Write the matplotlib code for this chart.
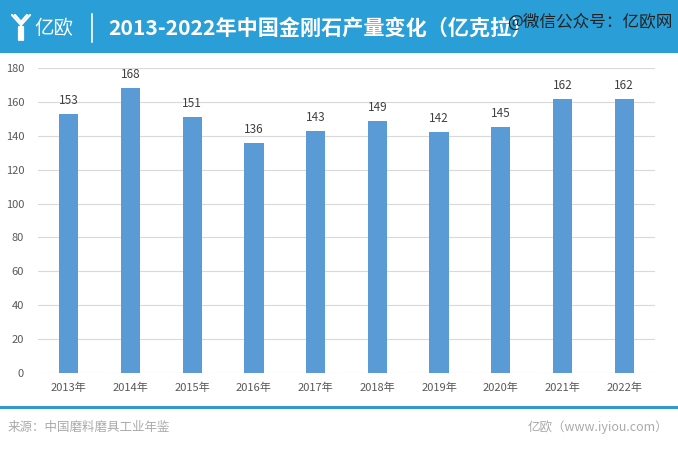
import matplotlib
matplotlib.use("Agg")
import matplotlib.pyplot as plt
from matplotlib.patches import Rectangle
from matplotlib.lines import Line2D

plt.rcParams['font.family'] = ['Noto Sans CJK SC', 'DejaVu Sans']

years = ["2013年", "2014年", "2015年", "2016年", "2017年", "2018年", "2019年", "2020年", "2021年", "2022年"]
production = [153, 168, 151, 136, 143, 149, 142, 145, 162, 162]
yticks = [0, 20, 40, 60, 80, 100, 120, 140, 160, 180]

title = "2013-2022年中国金刚石产量变化（亿克拉）"
source = "来源：中国磨料磨具工业年鉴"
site = "亿欧（www.iyiou.com）"
watermark = "@微信公众号：亿欧网"

W, H = 678, 449
fig = plt.figure(figsize=(W / 100, H / 100), dpi=100)
fig.patch.set_facecolor("white")

# header band
fig.add_artist(Rectangle((0, 1 - 53 / H), 1, 53 / H, transform=fig.transFigure,
                         facecolor="#2A9ED6", edgecolor="none", zorder=0))
def fl(x, y):
    return x / W, 1 - y / H
# logo icon (stylized Y)
for (x0, y0, x1, y1) in [(12, 15, 21, 25), (15, 15, 22, 23), (30, 15, 21, 25), (27, 15, 21, 22),
                         (21, 25, 21, 40), (19, 27, 19, 40), (23, 27, 23, 40)]:
    a = fl(x0, y0); b = fl(x1, y1)
    fig.add_artist(Line2D([a[0], b[0]], [a[1], b[1]], transform=fig.transFigure,
                          color="white", lw=1.6, solid_capstyle="round"))
fig.text(34 / W, 1 - 28 / H, "亿欧", color="white", fontsize=14, va="center", ha="left",
         fontweight="light")
a = fl(92, 14); b = fl(92, 42)
fig.add_artist(Line2D([a[0], b[0]], [a[1], b[1]], transform=fig.transFigure, color="white", lw=1.2))
fig.text(108 / W, 1 - 28 / H, title, color="white", fontsize=15.2, fontweight="bold",
         va="center", ha="left")
fig.text(673 / W, 1 - 22 / H, watermark, color="#222222", fontsize=12, va="center", ha="right")

# axes
ax = fig.add_axes([38 / W, 1 - 373 / H, (655 - 38) / W, (373 - 68) / H])
x = list(range(len(years)))
ax.bar(x, production, width=0.31, color="#5B9BD5", zorder=3)
ax.set_xlim(-0.5, len(years) - 0.5)
ax.set_ylim(0, 180)
ax.set_yticks(yticks)
ax.set_xticks(x)
ax.set_xticklabels(years)
ax.grid(axis="y", color="#D9D9D9", lw=0.8, zorder=0)
for s in ax.spines.values():
    s.set_visible(False)
ax.tick_params(axis="both", length=0, labelsize=8, labelcolor="#595959")
ax.tick_params(axis="x", pad=7)
ax.tick_params(axis="y", pad=10)
for xi, v in zip(x, production):
    ax.annotate(str(v), (xi, v), xytext=(0, 5), textcoords="offset points",
                ha="center", va="bottom", fontsize=8.5, color="#404040")

# footer
a = fl(0, 407); b = fl(678, 407)
fig.add_artist(Line2D([a[0], b[0]], [a[1], b[1]], transform=fig.transFigure, color="#3399CC", lw=2.2))
fig.text(8 / W, 1 - 427 / H, source, color="#AAAAAA", fontsize=9, va="center", ha="left")
fig.text(668 / W, 1 - 427 / H, site, color="#AAAAAA", fontsize=9, va="center", ha="right")

fig.savefig("out.png", dpi=100, facecolor="white")
